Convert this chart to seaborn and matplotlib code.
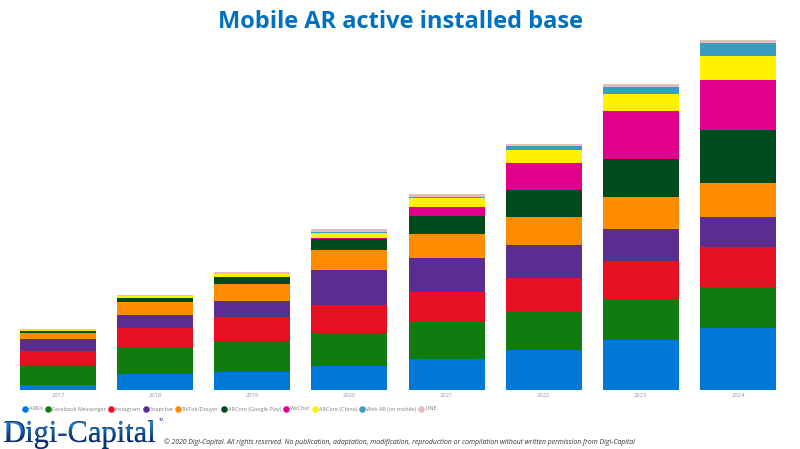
import matplotlib
matplotlib.use('Agg')
import matplotlib.pyplot as plt
from matplotlib.font_manager import FontProperties
from matplotlib.lines import Line2D
from matplotlib.patches import PathPatch
from matplotlib.textpath import TextPath
from matplotlib.transforms import Affine2D
from matplotlib.colors import LinearSegmentedColormap
import numpy as np
import pandas as pd
import seaborn as sns

years = ['2017', '2018', '2019', '2020', '2021', '2022', '2023', '2024']

# Values (no axis in the original, so arbitrary units)
arkit = [4.2, 15.2, 17.8, 23.5, 30.5, 39.5, 49.5, 61.5]
facebook = [20.3, 26.3, 30.4, 33.5, 37, 38, 41.5, 41]
instagram = [13.7, 19.7, 24, 27.5, 30, 34.5, 37.5, 40]
snapchat = [12.6, 13, 16.6, 35, 34, 33, 32, 30]
tiktok = [5.4, 13.3, 17, 20, 23.7, 27.6, 32, 34]
arcore_play = [2.6, 3.7, 6.4, 11, 18.6, 27.4, 38.5, 53]
wechat = [0, 0, 0, 1.3, 8.4, 27, 47.2, 49.7]
arcore_china = [0.3, 2, 3, 4.7, 9, 13, 17.6, 24]
web_ar = [0, 0, 0, 0.7, 1.3, 3.3, 6.4, 13]
line_app = [1.1, 1.2, 2.3, 3.3, 3, 2.7, 3.3, 3.3]

series = ['ARKit', 'Facebook Messenger', 'Instagram', 'Snapchat', 'TikTok/Douyin',
          'ARCore (Google Play)', 'WeChat', 'ARCore (China)', 'Web AR (on mobile)', 'LINE']
colors = ['#0078d7', '#107c10', '#e81123', '#5c2d91', '#ff8c00',
          '#004b1c', '#e3008c', '#fff100', '#3a9dbf', '#e3bcbc']

df = pd.DataFrame(dict(zip(series, [arkit, facebook, instagram, snapchat, tiktok,
                                    arcore_play, wechat, arcore_china, web_ar, line_app])),
                  index=years)

sns.set_theme(style='white')
plt.rcParams['font.family'] = ['Open Sans', 'DejaVu Sans']

fig = plt.figure(figsize=(8, 4.49), dpi=100)
ax = fig.add_axes([0, 1 - 389.5 / 449, 1, 389.5 / 449])

# Stack the bars
bottom = np.zeros(len(years))
for name, color in zip(series, colors):
    sns.barplot(x=years, y=df[name].values, bottom=bottom, color=color,
                width=0.782, saturation=1, linewidth=0, ax=ax)
    bottom += df[name].values

ax.set_xlim(-58 / 97.14, 742 / 97.14)
ax.set_ylim(0, 389.5)
ax.set_yticks([])
ax.tick_params(axis='x', length=0, labelsize=4.2, labelcolor='#999999', pad=2.5)
sns.despine(ax=ax, left=True, bottom=True)

fig.text(0.5, 1 - 22 / 449, 'Mobile AR active installed base', ha='center', va='center',
         fontsize=17, fontweight='bold', color='#0070c0')

# Legend
handles = [Line2D([], [], ls='', marker='o', ms=3.7, color=c) for c in colors]
fig.legend(handles, series, loc='center left', bbox_to_anchor=(22.5 / 800, 1 - 409 / 449),
           ncol=10, frameon=False, fontsize=4, labelcolor='#808080', borderpad=0, borderaxespad=0,
           handlelength=1.0, handletextpad=0.2, columnspacing=0.39)

# Logo: real text, with a top to bottom blue fade painted through its outline
logo_ax = fig.add_axes([0, 0, 1, 1], zorder=3)
logo_ax.axis('off')
logo_size = 22
logo_font = FontProperties(family='Liberation Serif', size=logo_size)
logo_ax.text(3, 442, 'Digi-Capital', ha='left', va='baseline', fontproperties=logo_font, color='#0b2f72')
logo_path = TextPath((0, 0), 'Digi-Capital', size=logo_size * 100 / 72, prop=logo_font)
logo_patch = PathPatch(logo_path, fc='none', ec='none',
                       transform=Affine2D().scale(1, -1).translate(3, 442) + logo_ax.transData)
logo_ax.add_patch(logo_patch)
fade = LinearSegmentedColormap.from_list('logo', ['#2a8ad0', '#1666b0', '#0b2f72', '#0b2f72'])
grad = logo_ax.imshow(np.linspace(0, 1, 64)[:, None], cmap=fade, extent=(0, 160, 449, 420),
                      aspect='auto', zorder=5)
grad.set_clip_path(logo_patch)
logo_ax.set_xlim(0, 800)
logo_ax.set_ylim(449, 0)
logo_ax.text(158.5, 420, 'TM', ha='left', va='center', fontsize=2.5, color='#0b2f72')

fig.text(164 / 800, 1 - 442.5 / 449,
         '© 2020 Digi-Capital. All rights reserved. No publication, adaptation, modification, '
         'reproduction or compilation without written permission from Digi-Capital',
         ha='left', va='center', fontsize=4.93, style='italic', color='#333333')

fig.savefig('out.png', dpi=100)
